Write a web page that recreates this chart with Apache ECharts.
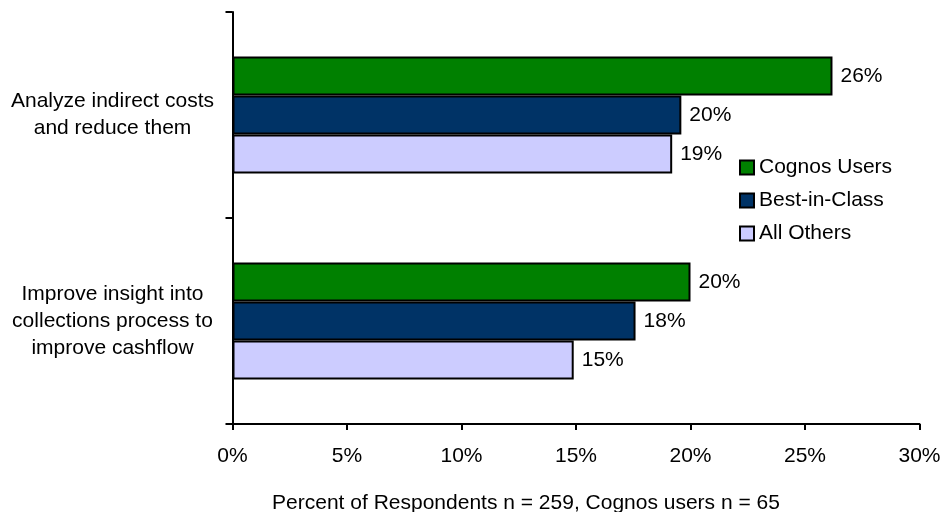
<!DOCTYPE html>
<html>
<head>
<meta charset="utf-8">
<script src="https://cdn.jsdelivr.net/npm/echarts@6/dist/echarts.min.js"></script>
<style>
html,body{margin:0;padding:0;background:#fff;}
#chart{width:940px;height:512px;}
</style>
</head>
<body>
<div id="chart"></div>
<script>
const categories = [
  "Analyze indirect costs\nand reduce them",
  "Improve insight into\ncollections process to\nimprove cashflow"
];
const seriesNames = ["Cognos Users", "Best-in-Class", "All Others"];
const cognosUsers = [26.2, 20.0];
const bestInClass = [19.6, 17.6];
const allOthers = [19.2, 14.9];
const xTicks = [0, 5, 10, 15, 20, 25, 30];
const axisTitle = "Percent of Respondents n = 259, Cognos users n = 65";

const colors = ["#008000", "#003366", "#CCCCFF"];
const FONT = "Liberation Sans, Arial, sans-serif";

const chart = echarts.init(document.getElementById('chart'), null, {renderer: 'canvas'});

function makeSeries(name, data, color) {
  return {
    name: name,
    type: 'bar',
    data: data,
    barWidth: 39,
    barGap: '0%',
    itemStyle: {color: color, borderColor: '#000', borderWidth: 2},
    label: {
      show: true,
      position: 'right',
      distance: 8,
      fontFamily: FONT,
      fontSize: 21,
      color: '#000',
      formatter: p => Math.round(p.value) + '%'
    }
  };
}

chart.setOption({
  animation: false,
  textStyle: {fontFamily: FONT},
  grid: {left: 232.5, right: 20.5, top: 12, bottom: 88, containLabel: false, outerBoundsMode: 'none'},
  legend: {
    orient: 'vertical',
    left: 739,
    top: 157,
    padding: 0,
    icon: 'rect',
    itemWidth: 14,
    itemHeight: 14,
    itemGap: 12,
    itemStyle: {borderColor: '#000', borderWidth: 2},
    textStyle: {fontFamily: FONT, fontSize: 21, color: '#000'},
    data: seriesNames
  },
  xAxis: {
    type: 'value',
    min: xTicks[0],
    max: xTicks[xTicks.length - 1],
    interval: 5,
    axisLine: {show: true, lineStyle: {color: '#000', width: 2}},
    axisTick: {show: true, length: 6, lineStyle: {color: '#000', width: 2}},
    splitLine: {show: false},
    axisLabel: {margin: 22, fontFamily: FONT, fontSize: 21, color: '#000', formatter: '{value}%'}
  },
  yAxis: {
    type: 'category',
    inverse: true,
    data: categories,
    axisLine: {show: true, lineStyle: {color: '#000', width: 2}},
    axisTick: {show: true, length: 7, lineStyle: {color: '#000', width: 2}},
    axisLabel: {margin: 120, align: 'center', fontFamily: FONT, fontSize: 21, lineHeight: 27, color: '#000'}
  },
  graphic: [{
    type: 'text',
    x: 526,
    y: 503,
    style: {text: axisTitle, font: '21px ' + FONT, fill: '#000', align: 'center', verticalAlign: 'middle'}
  }],
  series: [
    makeSeries(seriesNames[0], cognosUsers, colors[0]),
    makeSeries(seriesNames[1], bestInClass, colors[1]),
    makeSeries(seriesNames[2], allOthers, colors[2])
  ]
});
</script>
</body>
</html>
